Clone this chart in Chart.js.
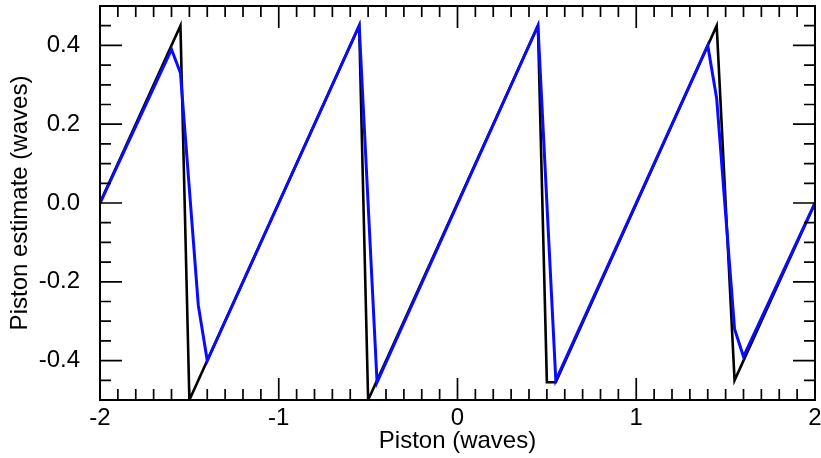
<!DOCTYPE html>
<html>
<head>
<meta charset="utf-8">
<script src="https://cdn.jsdelivr.net/npm/chart.js@4.4.0/dist/chart.umd.min.js"></script>
<style>
  html, body { margin: 0; padding: 0; background: #fff; }
  #wrap { width: 821px; height: 458px; }
</style>
</head>
<body>
<div id="wrap"><canvas id="chart" width="821" height="458"></canvas></div>
<script>
// true piston (black) and estimated piston (blue), in waves
const trueX = [-2, -1.55, -1.5, -0.55, -0.5, 0.45, 0.5, 0.55, 1.45, 1.55, 2];
const trueY = [0, 0.45, -0.5, 0.45, -0.5, 0.45, -0.455, -0.455, 0.45, -0.45, 0];

const estX = [-2, -1.6, -1.55, -1.45, -1.4, -0.55, -0.45, 0.45, 0.55, 1.4, 1.45, 1.55, 1.6, 2];
const estY = [0, 0.39, 0.33, -0.26, -0.40, 0.45, -0.455, 0.45, -0.45, 0.40, 0.265, -0.32, -0.39, 0];

const xMajorTicks = [-2, -1, 0, 1, 2];
const yMajorTicks = [-0.4, -0.2, 0.0, 0.2, 0.4];
const xMinorStep = 0.1;
const yMinorStep = 0.05;

const FONT = "'Liberation Sans', Arial, Helvetica, sans-serif";

function toPoints(xs, ys) {
  return xs.map((x, i) => ({ x: x, y: ys[i] }));
}

function tickList(min, max, step) {
  const out = [];
  const n = Math.round((max - min) / step);
  for (let i = 0; i <= n; i++) out.push({ value: Math.round((min + i * step) * 1000) / 1000 });
  return out;
}

function isMajor(value, majors) {
  return majors.some(m => Math.abs(m - value) < 1e-6);
}

// IDL style frame: inward ticks on all four sides
const framePlugin = {
  id: 'frame',
  afterDraw(chart) {
    const ctx = chart.ctx;
    const a = chart.chartArea;
    const xs = chart.scales.x;
    const ys = chart.scales.y;
    ctx.save();
    ctx.strokeStyle = '#000';
    ctx.lineWidth = 1.7;
    ctx.beginPath();
    xs.ticks.forEach(t => {
      const px = xs.getPixelForValue(t.value);
      const len = isMajor(t.value, xMajorTicks) ? 22 : 11;
      ctx.moveTo(px, a.bottom); ctx.lineTo(px, a.bottom - len);
      ctx.moveTo(px, a.top); ctx.lineTo(px, a.top + len);
    });
    ys.ticks.forEach(t => {
      const py = ys.getPixelForValue(t.value);
      const len = isMajor(t.value, yMajorTicks) ? 22 : 11;
      ctx.moveTo(a.left, py); ctx.lineTo(a.left + len, py);
      ctx.moveTo(a.right, py); ctx.lineTo(a.right - len, py);
    });
    ctx.stroke();
    ctx.lineWidth = 2;
    ctx.strokeRect(a.left, a.top, a.right - a.left, a.bottom - a.top);
    ctx.restore();
  }
};

const chartConfig = {
  type: 'scatter',
  data: {
    datasets: [
      {
        label: 'Estimate',
        data: toPoints(estX, estY),
        showLine: true,
        borderColor: '#0a0aff',
        borderWidth: 3,
        pointRadius: 0,
        tension: 0,
        order: 1,
      },
      {
        label: 'True',
        data: toPoints(trueX, trueY),
        showLine: true,
        borderColor: '#000',
        borderWidth: 2.6,
        pointRadius: 0,
        tension: 0,
        order: 2,
      },
    ],
  },
  options: {
    responsive: false,
    animation: false,
    devicePixelRatio: 1,
    layout: { padding: { top: 6, right: 6, left: 0, bottom: 0 } },
    plugins: { legend: { display: false }, tooltip: { enabled: false } },
    scales: {
      x: {
        type: 'linear',
        min: -2,
        max: 2,
        grid: { display: false },
        border: { display: false },
        afterBuildTicks: s => { s.ticks = tickList(-2, 2, xMinorStep); },
        afterFit: s => { s.height = 58; s.paddingLeft = 0; s.paddingRight = 0; },
        ticks: {
          autoSkip: false,
          maxRotation: 0,
          padding: -4,
          color: '#000',
          font: { family: FONT, size: 24 },
          callback: v => isMajor(v, xMajorTicks) ? String(Math.round(v)) : '',
        },
        title: {
          display: true,
          text: 'Piston (waves)',
          color: '#000',
          font: { family: FONT, size: 24 },
          padding: { top: 0, bottom: 2 },
        },
      },
      y: {
        type: 'linear',
        min: -0.5,
        max: 0.5,
        grid: { display: false },
        border: { display: false },
        afterBuildTicks: s => { s.ticks = tickList(-0.5, 0.5, yMinorStep); },
        afterFit: s => { s.width = 100; s.paddingTop = 0; s.paddingBottom = 0; },
        ticks: {
          autoSkip: false,
          padding: 12,
          color: '#000',
          font: { family: FONT, size: 24 },
          callback: v => isMajor(v, yMajorTicks) ? (Math.round(v * 10) / 10).toFixed(1) : '',
        },
        title: {
          display: true,
          text: 'Piston estimate (waves)',
          color: '#000',
          font: { family: FONT, size: 24 },
          padding: { top: 6, bottom: 0 },
        },
      },
    },
  },
  plugins: [framePlugin],
};

const myChart = new Chart(document.getElementById('chart'), chartConfig);
</script>
</body>
</html>
